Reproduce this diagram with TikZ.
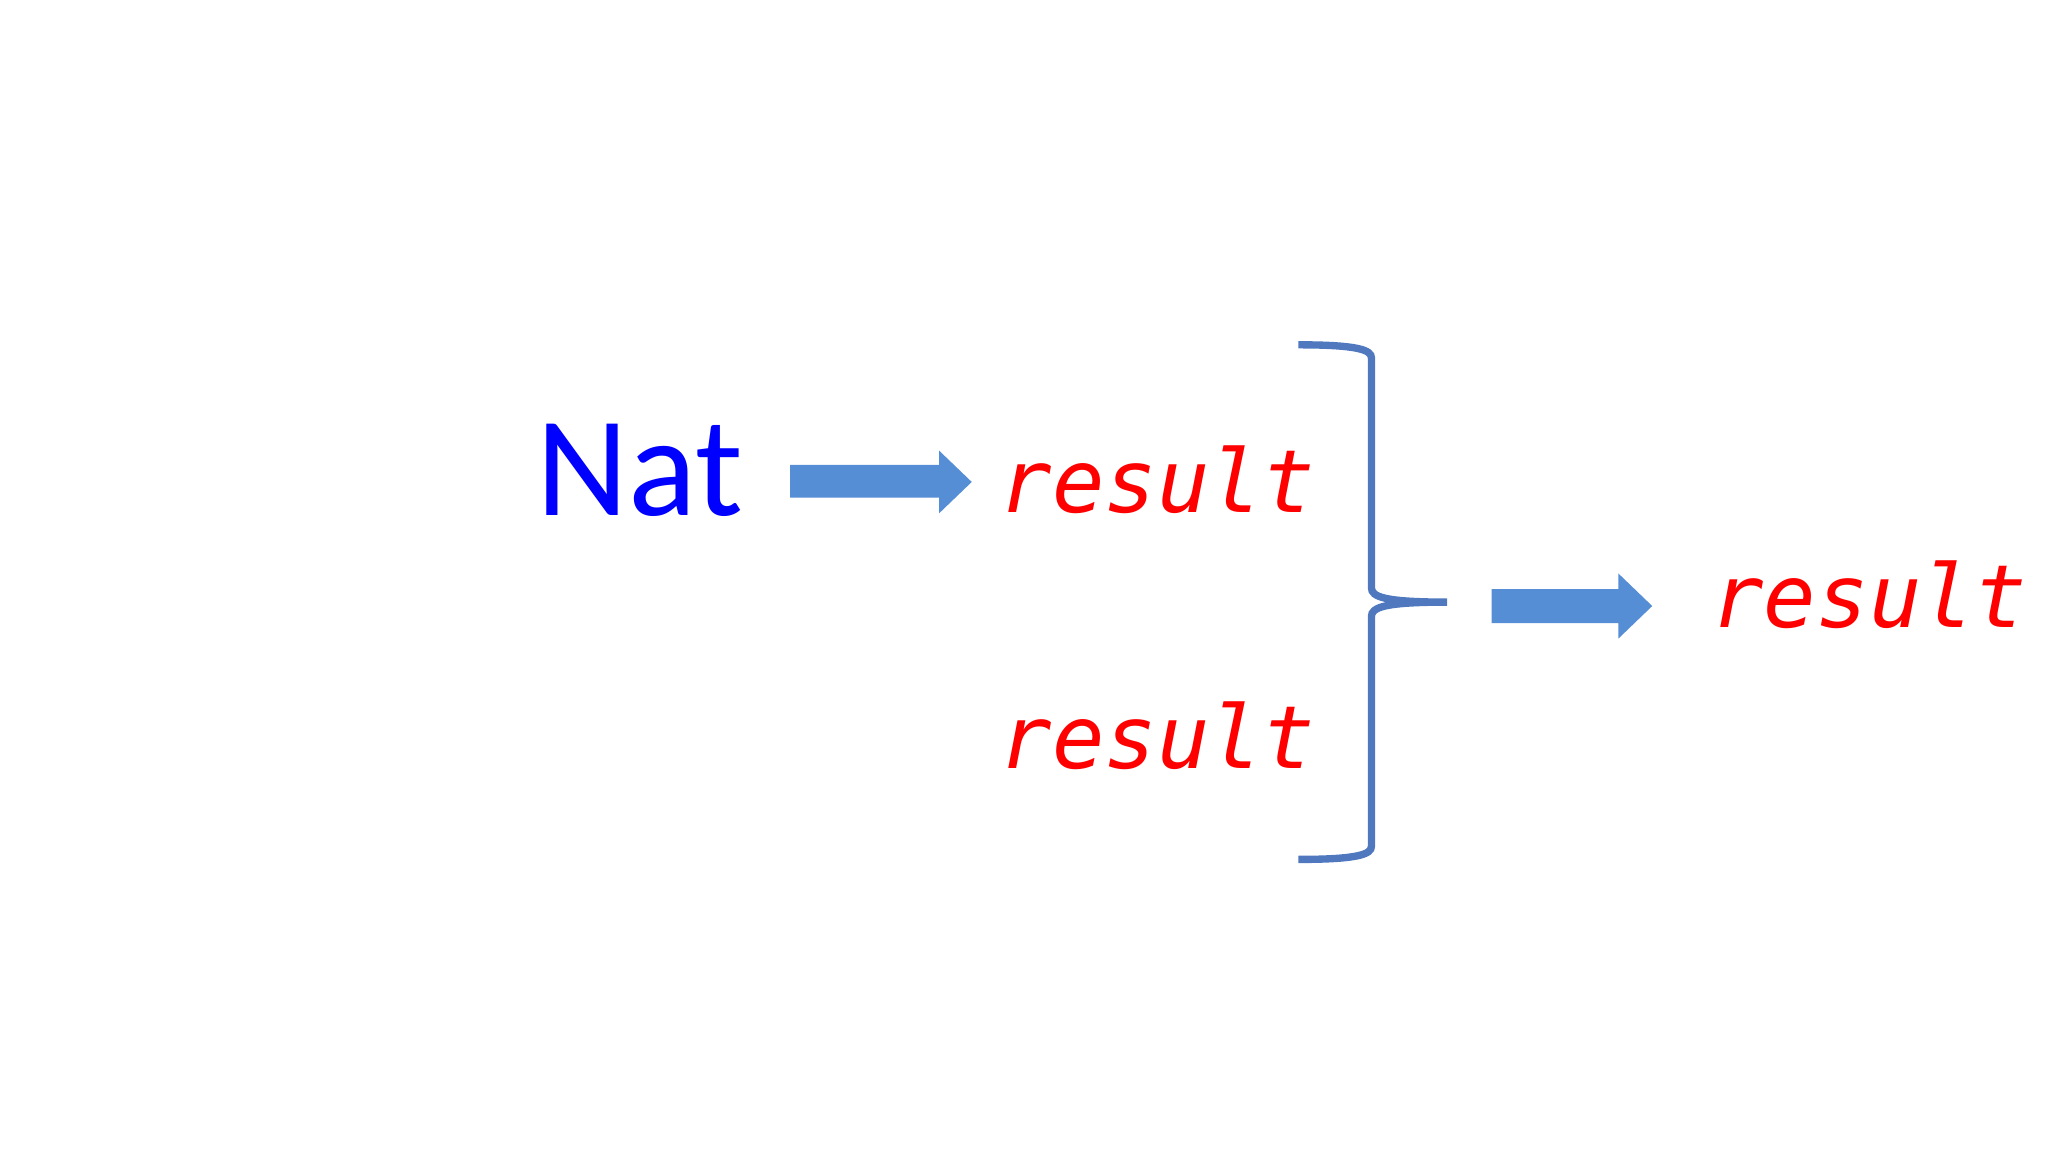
\documentclass[tikz,border=0pt]{standalone}
\usepackage{fontspec}
\setmainfont{Carlito}
\newfontfamily\monoit{DejaVu Sans Mono Oblique}
\definecolor{arrowblue}{RGB}{85,142,213}
\definecolor{bracecol}{RGB}{79,120,190}
\definecolor{natblue}{RGB}{0,0,255}
\tikzset{res/.style={text=red,font=\monoit\fontsize{19}{22}\selectfont,inner sep=0pt},
 fatarrow/.style={fill=arrowblue,draw=none}}
\begin{document}
\begin{tikzpicture}[x=0.01cm,y=-0.01cm]
\useasboundingbox (0,0) rectangle (1568,882);
\node[text=natblue,font=\fontsize{31}{36}\selectfont,inner sep=0pt] (nat) at (490,360) {Nat};
\node[res] (r1) at (886,367) {result};
\node[res] (r2) at (886,563) {result};
\node[res] (r3) at (1431,455) {result};
\fill[fatarrow] (605,356) -- (719,356) -- (719,345) -- (744,369) -- (719,393) -- (719,381) -- (605,381) -- cycle;
\fill[fatarrow] (1142,451) -- (1239,451) -- (1239,439) -- (1265,464) -- (1239,489) -- (1239,477) -- (1142,477) -- cycle;
\draw[bracecol,line width=1.6pt] (994,264) .. controls (1040,264) and (1050,268) .. (1050,274)
 -- (1050,450) .. controls (1050,457) and (1060,461) .. (1108,461)
 .. controls (1060,461) and (1050,465) .. (1050,472)
 -- (1050,648) .. controls (1050,654) and (1040,658) .. (994,658);
\end{tikzpicture}
\end{document}
